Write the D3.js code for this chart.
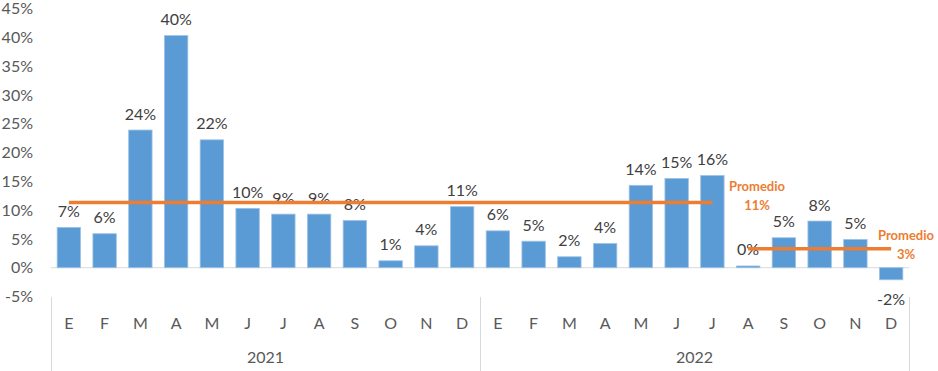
<!DOCTYPE html>
<html>
<head>
<meta charset="utf-8">
<script src="https://cdn.jsdelivr.net/npm/d3@7"></script>
<style>
  body { margin: 0; background: #fff; }
  text { font-family: Lato, "Open Sans", sans-serif; }
</style>
</head>
<body>
<div id="chart"></div>
<script>
// chart data
const years = ["2021", "2022"];
const months = ["E", "F", "M", "A", "M", "J", "J", "A", "S", "O", "N", "D"];
const values2021 = [7.0, 5.9, 23.9, 40.3, 22.2, 10.3, 9.3, 9.3, 8.2, 1.2, 3.8, 10.6];
const values2022 = [6.4, 4.6, 1.9, 4.2, 14.3, 15.5, 16.0, 0.3, 5.2, 8.1, 4.9, -2.1];
const labels2021 = ["7%", "6%", "24%", "40%", "22%", "10%", "9%", "9%", "8%", "1%", "4%", "11%"];
const labels2022 = ["6%", "5%", "2%", "4%", "14%", "15%", "16%", "0%", "5%", "8%", "5%", "-2%"];
const yTicks = [-5, 0, 5, 10, 15, 20, 25, 30, 35, 40, 45];
// averages: first index, last index, value, label
const avgStart = [0, 19];
const avgEnd = [18, 23];
const avgValues = [11.3, 3.3];
const avgLabels = ["11%", "3%"];

const width = 938;
const height = 371;

const allValues = values2021.concat(values2022);
const allLabels = labels2021.concat(labels2022);
const keys = allValues.map((d, i) => i);

const x = d3.scaleBand()
    .domain(keys)
    .range([51, 909])
    .paddingInner(0.345)
    .paddingOuter(0.172);

const y = d3.scaleLinear()
    .domain([-5, 45])
    .range([296.5, 8.5]);

const svg = d3.select("#chart")
    .append("svg")
    .attr("width", width)
    .attr("height", height);

// y tick labels
svg.append("g")
    .selectAll("text")
    .data(yTicks)
    .enter().append("text")
    .attr("x", 33)
    .attr("y", (d) => y(d))
    .attr("dy", "0.36em")
    .attr("text-anchor", "end")
    .style("font-size", "16px")
    .style("fill", "#595959")
    .text((d) => `${d}%`);

// zero line
svg.append("line")
    .attr("x1", 51)
    .attr("x2", 909)
    .attr("y1", y(0))
    .attr("y2", y(0))
    .style("stroke", "#d9d9d9")
    .style("stroke-width", 1);

// bars
svg.append("g")
    .selectAll("rect")
    .data(allValues)
    .enter().append("rect")
    .attr("x", (d, i) => x(i))
    .attr("width", x.bandwidth())
    .attr("y", (d) => y(Math.max(0, d)))
    .attr("height", (d) => Math.abs(y(d) - y(0)))
    .style("fill", "#5b9bd5")
    .style("stroke", "#9dc3e6")
    .style("stroke-width", 0.8);

// data labels
svg.append("g")
    .selectAll("text")
    .data(allValues)
    .enter().append("text")
    .attr("x", (d, i) => x(i) + x.bandwidth() / 2)
    .attr("y", (d) => (d < 0 ? y(d) + 25 : y(d) - 10.5))
    .attr("text-anchor", "middle")
    .style("font-size", "16px")
    .style("fill", "#404040")
    .text((d, i) => allLabels[i]);

// average lines
avgValues.forEach((v, k) => {
    svg.append("line")
        .attr("x1", x(avgStart[k]) + x.bandwidth() / 2)
        .attr("x2", x(avgEnd[k]) + x.bandwidth() / 2)
        .attr("y1", y(v))
        .attr("y2", y(v))
        .style("stroke", "#ed7d31")
        .style("stroke-width", 3.5);
});

// average labels
const avgLabelX = [757, 906];
const avgLabelY = [186.5, 235.5];
avgLabels.forEach((lab, k) => {
    const t = svg.append("text")
        .attr("x", avgLabelX[k])
        .attr("y", avgLabelY[k])
        .attr("text-anchor", "middle")
        .style("font-size", "13px")
        .style("font-weight", "bold")
        .style("fill", "#ed7d31");
    t.append("tspan").attr("x", avgLabelX[k]).attr("dy", "0.35em").text("Promedio");
    t.append("tspan").attr("x", avgLabelX[k]).attr("dy", "18.5").text(lab);
});

// category axis: month labels
svg.append("g")
    .selectAll("text")
    .data(keys)
    .enter().append("text")
    .attr("x", (d) => x(d) + x.bandwidth() / 2)
    .attr("y", 323)
    .attr("dy", "0.35em")
    .attr("text-anchor", "middle")
    .style("font-size", "16px")
    .style("fill", "#595959")
    .text((d) => months[d % 12]);

// year group labels
const yearScale = d3.scaleBand().domain(years).range([51, 909]);
svg.append("g")
    .selectAll("text")
    .data(years)
    .enter().append("text")
    .attr("x", (d) => yearScale(d) + yearScale.bandwidth() / 2)
    .attr("y", 357)
    .attr("dy", "0.35em")
    .attr("text-anchor", "middle")
    .style("font-size", "16px")
    .style("fill", "#595959")
    .text((d) => d);

// group separators
const sepX = [51, 480, 909];
svg.append("g")
    .selectAll("line")
    .data(sepX)
    .enter().append("line")
    .attr("x1", (d) => d + 0.5)
    .attr("x2", (d) => d + 0.5)
    .attr("y1", 297)
    .attr("y2", height)
    .style("stroke", "#d9d9d9")
    .style("stroke-width", 1);
</script>
</body>
</html>
